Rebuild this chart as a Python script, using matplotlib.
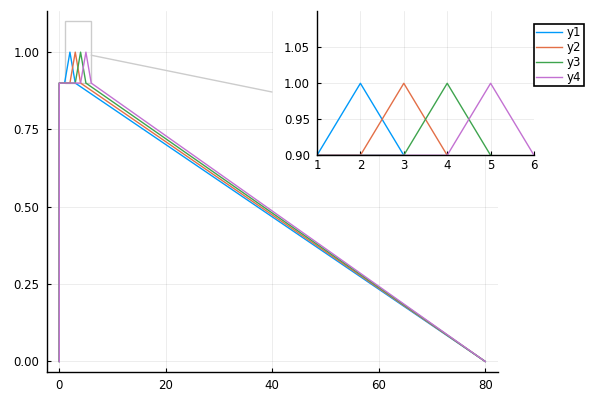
import matplotlib
matplotlib.use("Agg")
import matplotlib.pyplot as plt
from matplotlib.patches import Rectangle, ConnectionPatch

labels = ["y1", "y2", "y3", "y4"]
colors = ["#009AFA", "#E36F47", "#3EA44E", "#C371D2"]
xs = [
    [0, 0, 1, 2, 3, 80],
    [0, 0, 2, 3, 4, 80],
    [0, 0, 3, 4, 5, 80],
    [0, 0, 4, 5, 6, 80],
]
ys = [
    [0, 0.9, 0.9, 1.0, 0.9, 0],
    [0, 0.9, 0.9, 1.0, 0.9, 0],
    [0, 0.9, 0.9, 1.0, 0.9, 0],
    [0, 0.9, 0.9, 1.0, 0.9, 0],
]
lens_x = [1, 6]
lens_y = [0.9, 1.1]
main_xticks = [0, 20, 40, 60, 80]
main_yticks = [0.0, 0.25, 0.5, 0.75, 1.0]
inset_xticks = [1, 2, 3, 4, 5, 6]
inset_yticks = [0.90, 0.95, 1.00, 1.05]

W, H = 600, 400
fig = plt.figure(figsize=(6, 4), dpi=100)

def fr(x0, y0, x1, y1):
    return [x0 / W, 1 - y1 / H, (x1 - x0) / W, (y1 - y0) / H]

grid_kw = dict(color="black", alpha=0.1, linewidth=0.5)

def style(ax):
    for s in ["top", "right"]:
        ax.spines[s].set_visible(False)
    for s in ["left", "bottom"]:
        ax.spines[s].set_linewidth(1.0)
    ax.tick_params(direction="in", length=3, width=0.8, labelsize=8.5)
    ax.tick_params(axis="y", pad=5)
    ax.tick_params(axis="x", pad=5)
    ax.grid(True, **grid_kw)
    ax.set_axisbelow(True)

ax = fig.add_axes(fr(46.5, 11, 498, 371.7))
ax.set_zorder(1)
for x, y, c, l in zip(xs, ys, colors, labels):
    ax.plot(x, y, color=c, linewidth=1, label=l)
ax.add_patch(Rectangle((lens_x[0], lens_y[0]), lens_x[1] - lens_x[0], lens_y[1] - lens_y[0],
                       fill=False, edgecolor="#cccccc", linewidth=1))
ax.set_xlim(-2.4, 82.4)
ax.set_ylim(-0.033, 1.133)
ax.set_xticks(main_xticks)
ax.set_xticklabels([str(v) for v in main_xticks])
ax.set_yticks(main_yticks)
ax.set_yticklabels([f"{v:.2f}" for v in main_yticks])
style(ax)

con = ConnectionPatch(xyA=(lens_x[1], 0.99), coordsA=ax.transData,
                      xyB=(272 / W, 1 - 92 / H), coordsB=fig.transFigure,
                      color="#cccccc", linewidth=1)
con.set_zorder(2)
fig.add_artist(con)

bg = Rectangle((273 / W, 1 - 155 / H), (317 - 273) / W, (155 - 11) / H,
               transform=fig.transFigure, facecolor="white", edgecolor="none", zorder=2.5)
fig.add_artist(bg)

ins = fig.add_axes(fr(317, 11.3, 534, 155.3))
ins.set_zorder(3)
for x, y, c, l in zip(xs, ys, colors, labels):
    ins.plot(x, y, color=c, linewidth=1, label=l)
ins.set_xlim(lens_x)
ins.set_ylim(lens_y)
ins.set_xticks(inset_xticks)
ins.set_xticklabels([str(v) for v in inset_xticks])
ins.set_yticks(inset_yticks)
ins.set_yticklabels([f"{v:.2f}" for v in inset_yticks])
style(ins)
ins.tick_params(axis="x", pad=3)

handles, labs = ax.get_legend_handles_labels()
leg = fig.legend(handles, labs, loc="upper left", bbox_to_anchor=(534 / W, 1 - 24 / H),
                 bbox_transform=fig.transFigure, fontsize=8.5, frameon=True, fancybox=False,
                 edgecolor="black", framealpha=1, borderpad=0.2, handlelength=2.2,
                 handletextpad=0.4, labelspacing=0.15, borderaxespad=0)
leg.get_frame().set_linewidth(1.2)
leg.set_zorder(5)

fig.savefig("out.png", dpi=100)
